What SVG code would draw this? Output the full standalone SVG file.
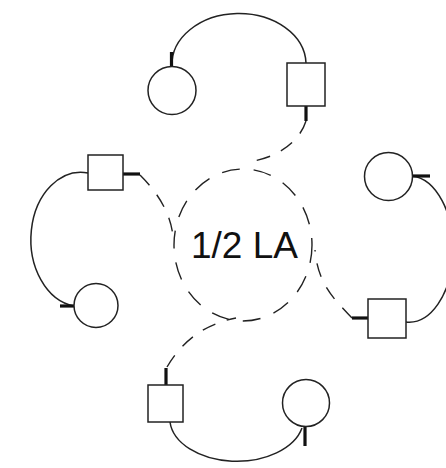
<svg xmlns="http://www.w3.org/2000/svg" width="446" height="468" viewBox="0 0 446 468">
<style>
.box{fill:#fff;stroke:#222;stroke-width:1.5}
.ring{fill:#fff;stroke:#222;stroke-width:1.5}
.hub{fill:none;stroke:#222;stroke-width:1.4;stroke-dasharray:18 14}
.arc{fill:none;stroke:#222;stroke-width:1.5}
.dash{fill:none;stroke:#222;stroke-width:1.4;stroke-dasharray:14 12}
.tick{stroke:#111;stroke-width:3.2;stroke-linecap:butt}
.lbl{font-family:"Liberation Sans",Arial,sans-serif;font-size:37px;fill:#111}
</style>
<rect width="446" height="468" fill="#fff"/>
<g id="connectors">
<path class="arc" d="M306,63 A67 51 0 0 0 172,66"/>
<path class="arc" d="M88,173 A50 67 0 0 0 74,306"/>
<path class="arc" d="M412,176 A44 73 0 0 1 406,322"/>
<path class="arc" d="M170,422 A67 43 0 0 0 302,428"/>
<path class="dash" d="M306,121 C300,140 280,158 247,162"/>
<path class="dash" d="M140,175 C155,190 170,210 173,236"/>
<path class="dash" d="M352,318 C335,300 318,285 315,250"/>
<path class="dash" d="M167,367 C180,345 200,325 236,318"/>
<line class="tick" x1="171.5" y1="52" x2="171.5" y2="67"/>
<line class="tick" x1="306" y1="106" x2="306" y2="121"/>
<line class="tick" x1="60" y1="306" x2="74" y2="306"/>
<line class="tick" x1="123" y1="174" x2="140" y2="174"/>
<line class="tick" x1="412" y1="176" x2="430" y2="176"/>
<line class="tick" x1="352" y1="318" x2="368" y2="318"/>
<line class="tick" x1="305" y1="427" x2="305" y2="446"/>
<line class="tick" x1="166" y1="368" x2="166" y2="385"/>
</g>
<g id="hub">
<ellipse class="hub" cx="243" cy="245" rx="69" ry="76"/>
<text class="lbl" x="191" y="258">1/2 LA</text>
</g>
<g id="square-top"><rect class="box" x="287" y="63" width="38" height="43"/></g>
<g id="square-left"><rect class="box" x="88" y="155" width="35" height="35"/></g>
<g id="square-right"><rect class="box" x="368" y="299" width="38" height="39"/></g>
<g id="square-bottom"><rect class="box" x="148" y="385" width="35" height="37"/></g>
<g id="circle-top"><circle class="ring" cx="172" cy="90.5" r="24"/></g>
<g id="circle-left"><circle class="ring" cx="96" cy="305.5" r="22"/></g>
<g id="circle-right"><circle class="ring" cx="388.5" cy="176.5" r="24"/></g>
<g id="circle-bottom"><circle class="ring" cx="306" cy="403" r="23.5"/></g>
</svg>
